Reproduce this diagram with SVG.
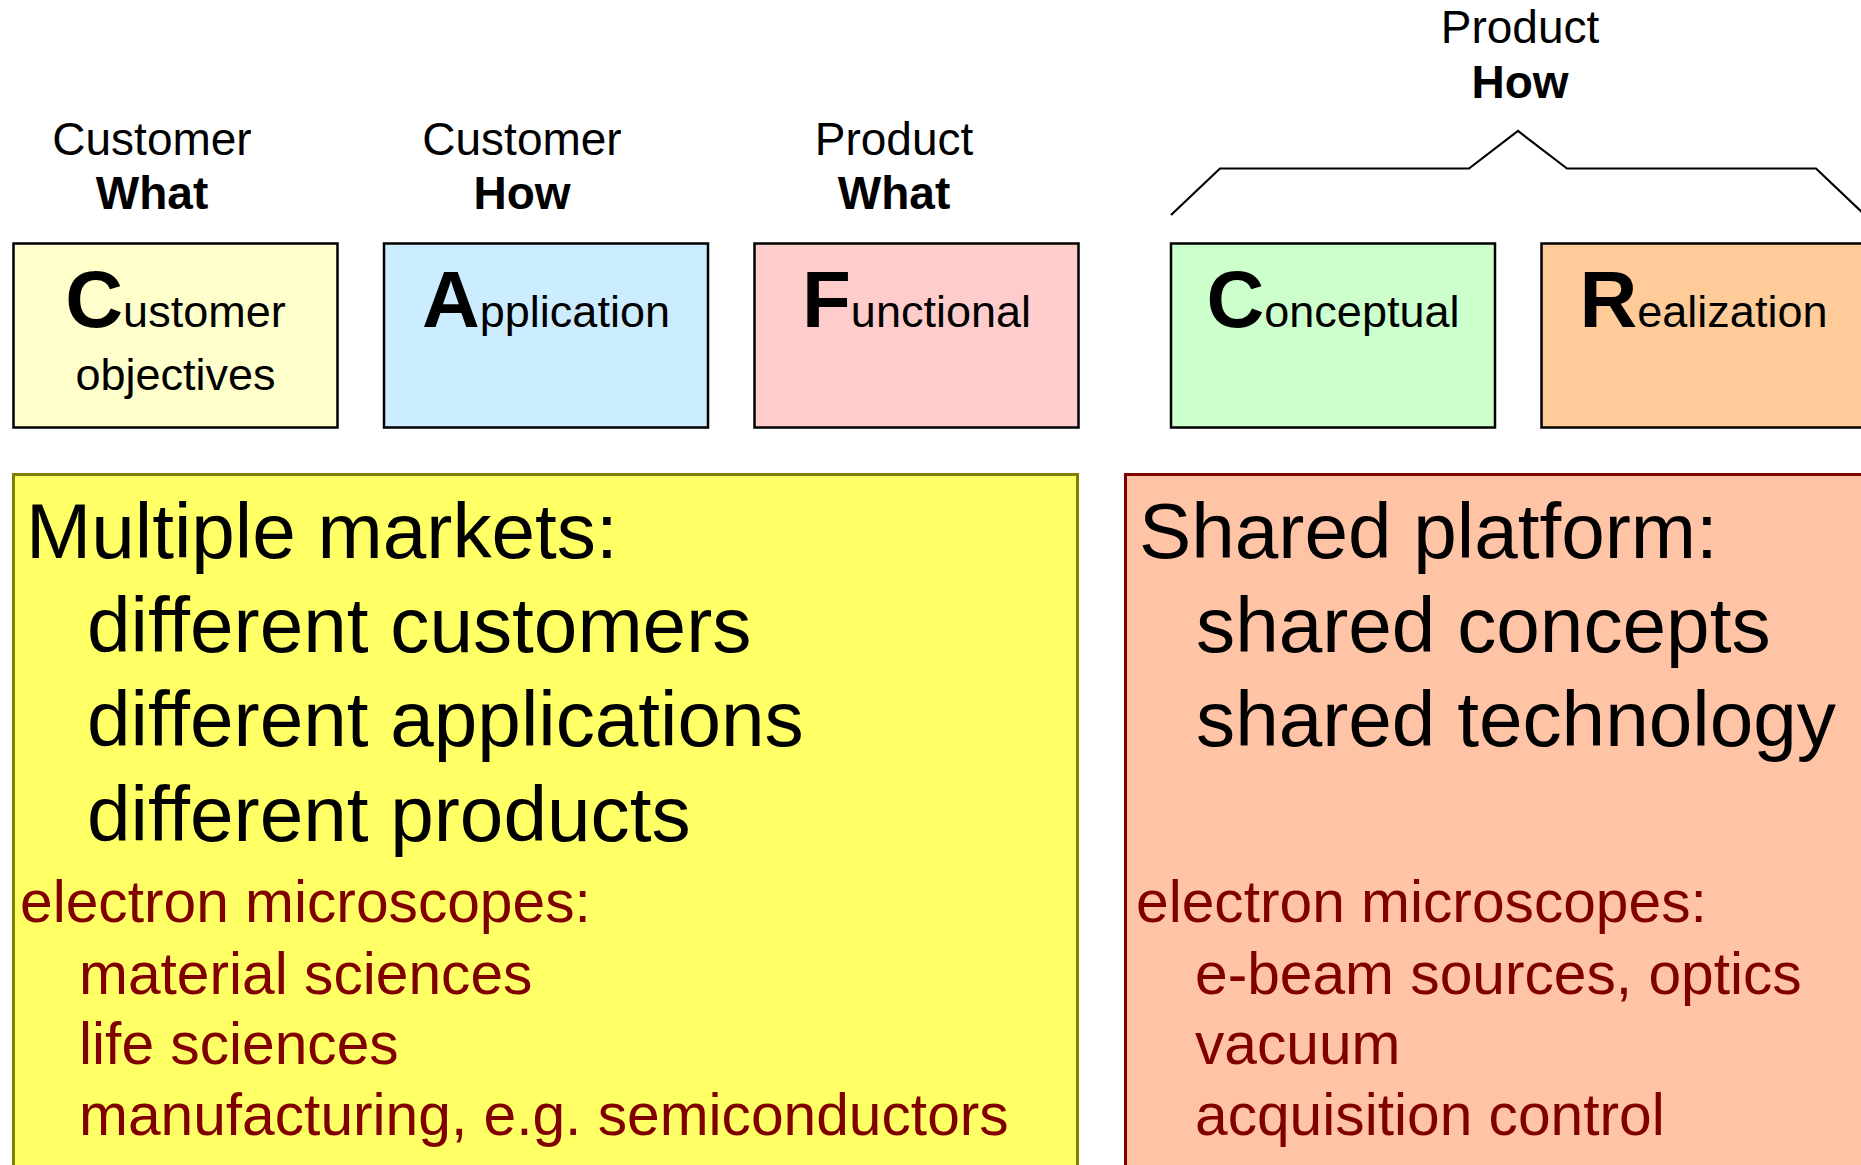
<svg xmlns="http://www.w3.org/2000/svg" width="1861" height="1165" viewBox="0 0 1861 1165">
<style>
text{font-family:"Liberation Sans",Arial,sans-serif;fill:#000}
.lbl{font-size:46px;text-anchor:middle}
.b{font-weight:bold}
.nm{font-size:45px;text-anchor:middle}
.big{font-size:80px;font-weight:bold}
.box{stroke:#000;stroke-width:2.5}
.h1{font-size:78.3px}
.red{font-size:58.7px;fill:#800000}
</style>
<rect width="1861" height="1165" fill="#fff"/>
<g id="labels">
<text class="lbl" x="152" y="155">Customer</text>
<text class="lbl b" x="152" y="209">What</text>
<text class="lbl" x="522" y="155">Customer</text>
<text class="lbl b" x="522" y="209">How</text>
<text class="lbl" x="894" y="155">Product</text>
<text class="lbl b" x="894" y="209">What</text>
<text class="lbl" x="1520" y="43">Product</text>
<text class="lbl b" x="1520" y="98">How</text>
</g>
<g id="connectors">
<polyline points="1171,215 1220,168.5 1469,168.5 1518,131 1567,168.5 1816,168.5 1865,215" fill="none" stroke="#000" stroke-width="2.2"/>
</g>
<g id="node-customer">
<rect class="box" x="13.5" y="243.5" width="324" height="184" fill="#FFFFCC"/>
<text class="nm" x="175.5" y="327"><tspan class="big">C</tspan>ustomer</text>
<text class="nm" x="175.5" y="390">objectives</text>
</g>
<g id="node-application">
<rect class="box" x="384" y="243.5" width="324" height="184" fill="#CCECFF"/>
<text class="nm" x="546" y="327"><tspan class="big">A</tspan>pplication</text>
</g>
<g id="node-functional">
<rect class="box" x="754.5" y="243.5" width="324" height="184" fill="#FFCCCC"/>
<text class="nm" x="916.5" y="327"><tspan class="big">F</tspan>unctional</text>
</g>
<g id="node-conceptual">
<rect class="box" x="1171" y="243.5" width="324" height="184" fill="#CCFFCC"/>
<text class="nm" x="1333" y="327"><tspan class="big">C</tspan>onceptual</text>
</g>
<g id="node-realization">
<rect class="box" x="1541.5" y="243.5" width="324" height="184" fill="#FFCC99"/>
<text class="nm" x="1703.5" y="327"><tspan class="big">R</tspan>ealization</text>
</g>
<g id="node-markets">
<rect x="13.5" y="474.5" width="1064" height="700" fill="#FFFF66" stroke="#808000" stroke-width="3"/>
<text class="h1" x="26" y="558">Multiple markets:</text>
<text class="h1" x="87" y="652">different customers</text>
<text class="h1" x="87" y="746">different applications</text>
<text class="h1" x="87" y="841">different products</text>
<text class="red" x="20" y="922">electron microscopes:</text>
<text class="red" x="79" y="994">material sciences</text>
<text class="red" x="79" y="1064">life sciences</text>
<text class="red" x="79" y="1135">manufacturing, e.g. semiconductors</text>
</g>
<g id="node-platform">
<rect x="1125.5" y="474.5" width="760" height="700" fill="#FFC4A6" stroke="#800000" stroke-width="3"/>
<text class="h1" x="1139" y="558">Shared platform:</text>
<text class="h1" x="1196" y="652">shared concepts</text>
<text class="h1" x="1196" y="746">shared technology</text>
<text class="red" x="1136" y="922">electron microscopes:</text>
<text class="red" x="1195" y="994">e-beam sources, optics</text>
<text class="red" x="1195" y="1064">vacuum</text>
<text class="red" x="1195" y="1135">acquisition control</text>
</g>
</svg>
